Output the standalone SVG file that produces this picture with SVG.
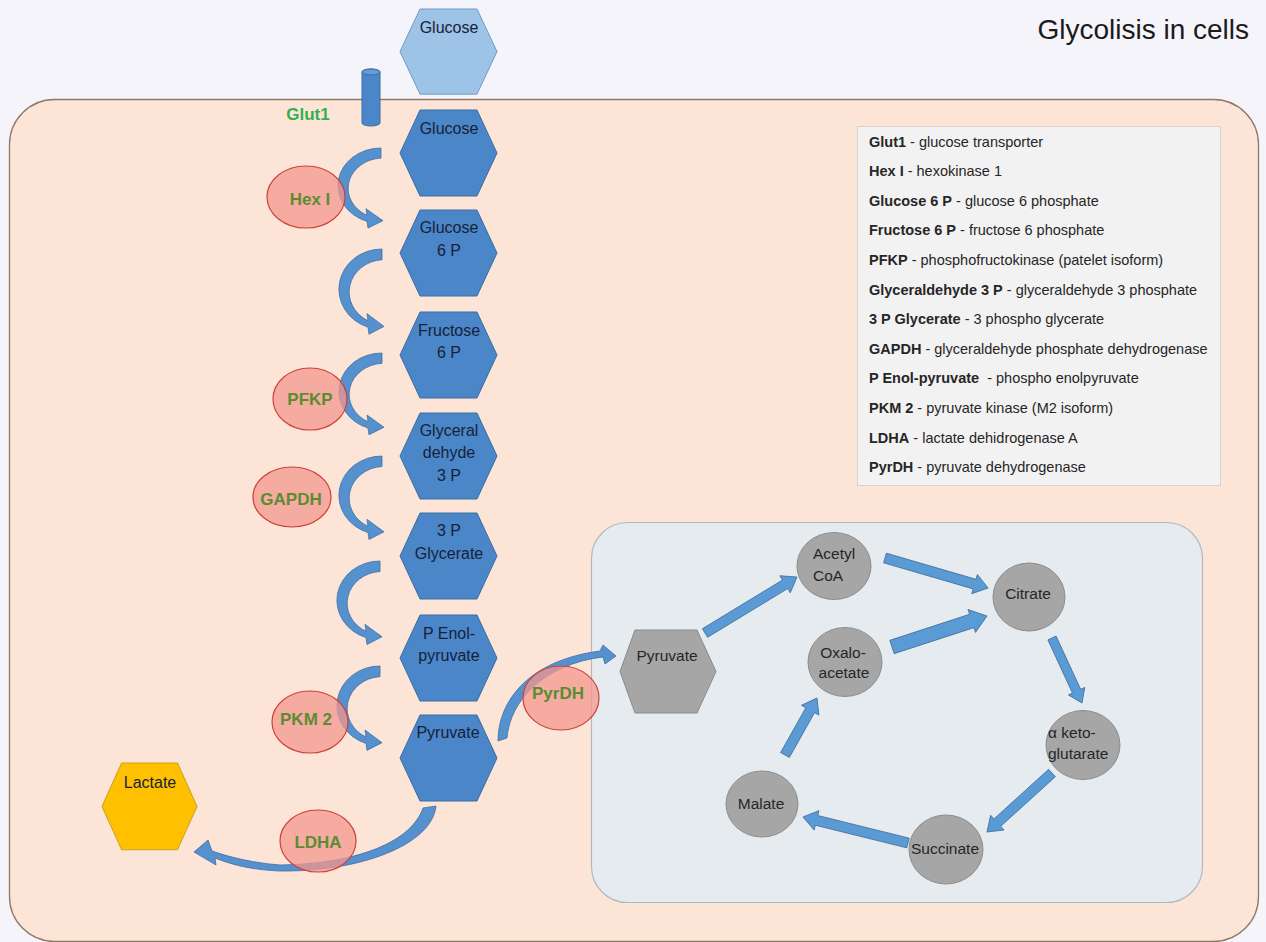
<svg xmlns="http://www.w3.org/2000/svg" xmlns:xlink="http://www.w3.org/1999/xlink" width="1266" height="942" viewBox="0 0 1266 942">
<defs>
<style>
.hexb{fill:#4a86c8;stroke:#3a6ea5;stroke-width:1}
.hexl{fill:#9dc3e6;stroke:#6f99c4;stroke-width:1}
.hexg{fill:#a6a6a6;stroke:#8a8a8a;stroke-width:1}
.hexy{fill:#ffc000;stroke:#c9a227;stroke-width:1}
.circ{fill:#a6a6a6;stroke:#8c8c8c;stroke-width:1}
.enz{fill:#f4978e;fill-opacity:0.75;stroke:#d0403a;stroke-width:1.2}
.enzt{font-family:"Liberation Sans",Arial,sans-serif;font-weight:bold;font-size:17px;fill:#5b8c32;text-anchor:middle}
.nt{font-family:"Liberation Sans",Arial,sans-serif;font-size:16px;fill:#172238;text-anchor:middle}
.tt{font-family:"Liberation Sans",Arial,sans-serif;font-size:15.5px;fill:#262626}
.lg{font-family:"Liberation Sans",Arial,sans-serif;font-size:14.5px;fill:#262626}
.carr{fill:#5590cf;stroke:#3d6fa3;stroke-width:0.8}
.sarr{fill:#5b9bd5;stroke:#41719c;stroke-width:0.8}
</style>
<path id="carrow" d="M 0 0 A 43 41 0 0 0 -14 79.8 L -13 87 L 2 79 L -15 66 L -14 73.2 A 35 33 0 0 1 0 11 Z"/>
<polygon id="hex" points="0,43 20,0 77,0 97,43 77,86 20,86"/>
</defs>

<rect x="0" y="0" width="1266" height="942" fill="#f6f4fb"/>
<rect id="cell" x="9.5" y="99.5" width="1249" height="842" rx="45" ry="45" fill="#fce5d6" stroke="#8f7765" stroke-width="1.3"/>
<text x="1249" y="39" font-family="'Liberation Sans',Arial,sans-serif" font-size="28" fill="#1a1a1a" text-anchor="end">Glycolisis in cells</text>

<g id="legend">
<rect x="857.5" y="126.5" width="363" height="359" fill="#f2f2f2" stroke="#d4d4d4" stroke-width="1"/>
<text class="lg" x="869" y="146.5"><tspan font-weight="bold">Glut1</tspan> - glucose transporter</text>
<text class="lg" x="869" y="176.1"><tspan font-weight="bold">Hex I</tspan> - hexokinase 1</text>
<text class="lg" x="869" y="205.7"><tspan font-weight="bold">Glucose 6 P</tspan> - glucose 6 phosphate</text>
<text class="lg" x="869" y="235.3"><tspan font-weight="bold">Fructose 6 P</tspan> - fructose 6 phosphate</text>
<text class="lg" x="869" y="264.9"><tspan font-weight="bold">PFKP</tspan> - phosphofructokinase (patelet isoform)</text>
<text class="lg" x="869" y="294.5"><tspan font-weight="bold">Glyceraldehyde 3 P</tspan> - glyceraldehyde 3 phosphate</text>
<text class="lg" x="869" y="324.1"><tspan font-weight="bold">3 P Glycerate</tspan> - 3 phospho glycerate</text>
<text class="lg" x="869" y="353.7"><tspan font-weight="bold">GAPDH</tspan> - glyceraldehyde phosphate dehydrogenase</text>
<text class="lg" x="869" y="383.3"><tspan font-weight="bold">P Enol-pyruvate</tspan><tspan dx="4"> - phospho enolpyruvate</tspan></text>
<text class="lg" x="869" y="412.9"><tspan font-weight="bold">PKM 2</tspan> - pyruvate kinase (M2 isoform)</text>
<text class="lg" x="869" y="442.5"><tspan font-weight="bold">LDHA</tspan> - lactate dehidrogenase A</text>
<text class="lg" x="869" y="472.1"><tspan font-weight="bold">PyrDH</tspan> - pyruvate dehydrogenase</text>
</g>

<rect id="mitochondrion" x="591.5" y="522.5" width="611" height="380" rx="36" ry="36" fill="#e6ebef" stroke="#aeb9c4" stroke-width="1.2"/>

<g id="connectors">
<use href="#carrow" class="carr" transform="translate(381 148) scale(1 0.92)"/>
<use href="#carrow" class="carr" transform="translate(382 249) scale(1 0.98)"/>
<use href="#carrow" class="carr" transform="translate(382 353) scale(1 0.94)"/>
<use href="#carrow" class="carr" transform="translate(382 456) scale(1 0.96)"/>
<use href="#carrow" class="carr" transform="translate(380 561) scale(1 0.96)"/>
<use href="#carrow" class="carr" transform="translate(380 666) scale(1 0.97)"/>
<path class="carr" d="M 423 808 L 436 806 C 432 845 360 872 280 871 C 255 870 235 866 215 858 L 216 865 L 194 852 L 208 840 L 212 851 C 232 858 255 863 280 865 C 350 864 410 845 423 808 Z"/>
<path class="carr" d="M 498 741 C 498 700 530 660 600 651 L 603 645 L 616 656 L 605 664 L 603 657 C 545 664 510 700 507 738 Z"/>
<polygon class="sarr" points="0,-5 93.7,-5 93.7,-10 107.7,0 93.7,10 93.7,5 0,5" transform="translate(705 633) rotate(-31.3)"/>
<polygon class="sarr" points="0,-5 93.3,-5 93.3,-10 107.3,0 93.3,10 93.3,5 0,5" transform="translate(885 558) rotate(16.24)"/>
<polygon class="sarr" points="0,-7 83.9,-7 83.9,-12 99.9,0 83.9,12 83.9,7 0,7" transform="translate(892 647) rotate(-18.07)"/>
<polygon class="sarr" points="0,-4.5 58.6,-4.5 58.6,-9 71.6,0 58.6,9 58.6,4.5 0,4.5" transform="translate(1052 638) rotate(65.22)"/>
<polygon class="sarr" points="0,-5 73.8,-5 73.8,-10 87.8,0 73.8,10 73.8,5 0,5" transform="translate(1052 773) rotate(137.77)"/>
<polygon class="sarr" points="0,-5 94.2,-5 94.2,-10 108.2,0 94.2,10 94.2,5 0,5" transform="translate(908 843) rotate(-166.1)"/>
<polygon class="sarr" points="0,-5 51.4,-5 51.4,-10 65.4,0 51.4,10 51.4,5 0,5" transform="translate(785 755) rotate(-60.69)"/>
</g>

<g id="glut1">
<path d="M362 72 L362 123 A9 3 0 0 0 380 123 L380 72 A9 3 0 0 0 362 72 Z" fill="#4a86c8" stroke="#3a6ea5" stroke-width="1"/>
<ellipse cx="371" cy="72" rx="9" ry="3" fill="#6a9ad3" stroke="#3a6ea5" stroke-width="1"/>
<text x="308" y="120" font-family="'Liberation Sans',Arial,sans-serif" font-weight="bold" font-size="17" fill="#33b04e" text-anchor="middle">Glut1</text>
</g>

<g id="glucose-out">
<use href="#hex" class="hexl" transform="translate(400 9) scale(1 0.99)"/>
<text class="nt" x="449" y="33">Glucose</text>
</g>
<g id="glucose">
<use href="#hex" class="hexb" x="400" y="110"/>
<text class="nt" x="449" y="134">Glucose</text>
</g>
<g id="glucose6p">
<use href="#hex" class="hexb" x="400" y="210"/>
<text class="nt" x="449" y="233">Glucose</text>
<text class="nt" x="449" y="256">6 P</text>
</g>
<g id="fructose6p">
<use href="#hex" class="hexb" x="400" y="312"/>
<text class="nt" x="449" y="336">Fructose</text>
<text class="nt" x="449" y="358">6 P</text>
</g>
<g id="glyceraldehyde3p">
<use href="#hex" class="hexb" x="400" y="413"/>
<text class="nt" x="449" y="436">Glyceral</text>
<text class="nt" x="449" y="458">dehyde</text>
<text class="nt" x="449" y="481">3 P</text>
</g>
<g id="glycerate3p">
<use href="#hex" class="hexb" x="400" y="513"/>
<text class="nt" x="449" y="536">3 P</text>
<text class="nt" x="449" y="559">Glycerate</text>
</g>
<g id="penolpyruvate">
<use href="#hex" class="hexb" x="400" y="615"/>
<text class="nt" x="449" y="639">P Enol-</text>
<text class="nt" x="449" y="661">pyruvate</text>
</g>
<g id="pyruvate">
<use href="#hex" class="hexb" x="400" y="715"/>
<text class="nt" x="448" y="738">Pyruvate</text>
</g>
<g id="lactate">
<use href="#hex" class="hexy" transform="translate(102 763) scale(0.98 1.01)"/>
<text class="nt" x="150" y="788" fill="#3a2a10">Lactate</text>
</g>

<g id="hex1"><ellipse class="enz" cx="306" cy="197" rx="39" ry="31"/><text class="enzt" x="310" y="205">Hex I</text></g>
<g id="pfkp"><ellipse class="enz" cx="310" cy="399" rx="37" ry="31"/><text class="enzt" x="310" y="405">PFKP</text></g>
<g id="gapdh"><ellipse class="enz" cx="292" cy="497" rx="39" ry="30"/><text class="enzt" x="291" y="505">GAPDH</text></g>
<g id="pkm2"><ellipse class="enz" cx="310" cy="722" rx="38" ry="31"/><text class="enzt" x="306" y="725">PKM 2</text></g>
<g id="ldha"><ellipse class="enz" cx="318" cy="841" rx="38" ry="31"/><text class="enzt" x="318" y="848">LDHA</text></g>
<g id="pyrdh"><ellipse class="enz" cx="561" cy="698" rx="38" ry="32"/><text class="enzt" x="558" y="699">PyrDH</text></g>

<g id="pyruvate-mito">
<polygon class="hexg" points="620,671.5 635,630 697,630 716,671.5 697,713 635,713"/>
<text class="tt" x="667" y="660.5" text-anchor="middle">Pyruvate</text>
</g>
<g id="acetylcoa">
<ellipse class="circ" cx="834" cy="566" rx="37" ry="33.5"/>
<text class="tt" x="813" y="558.5">Acetyl</text>
<text class="tt" x="813" y="580.5">CoA</text>
</g>
<g id="oxaloacetate">
<ellipse class="circ" cx="845" cy="662" rx="37" ry="34.5"/>
<text class="tt" x="843" y="657.5" text-anchor="middle">Oxalo-</text>
<text class="tt" x="844" y="677.5" text-anchor="middle">acetate</text>
</g>
<g id="citrate">
<ellipse class="circ" cx="1029" cy="597" rx="36" ry="34"/>
<text class="tt" x="1028" y="598.5" text-anchor="middle">Citrate</text>
</g>
<g id="aketoglutarate">
<ellipse class="circ" cx="1083" cy="745" rx="37" ry="34.5"/>
<text class="tt" x="1048" y="737.5">α keto-</text>
<text class="tt" x="1048" y="758.5">glutarate</text>
</g>
<g id="succinate">
<ellipse class="circ" cx="946" cy="849.5" rx="37" ry="34.5"/>
<text class="tt" x="945" y="853.5" text-anchor="middle">Succinate</text>
</g>
<g id="malate">
<ellipse class="circ" cx="762" cy="804" rx="36" ry="33"/>
<text class="tt" x="761" y="808.5" text-anchor="middle">Malate</text>
</g>
</svg>
